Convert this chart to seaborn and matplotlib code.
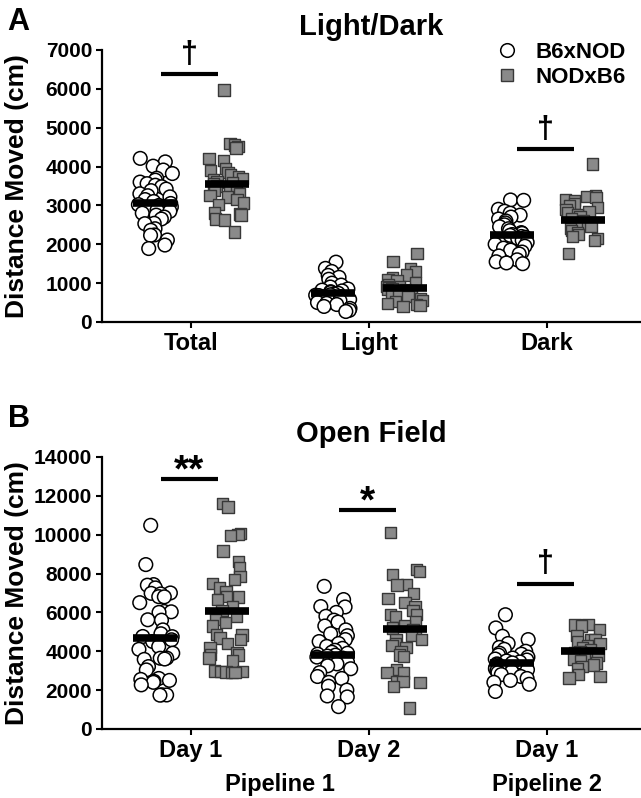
import matplotlib
matplotlib.use("Agg")
import matplotlib.pyplot as plt
from matplotlib.lines import Line2D
import numpy as np
import pandas as pd
import seaborn as sns

strains = ["B6xNOD", "NODxB6"]

# ---- panel A: light/dark test ----
ld_cats = ["Total", "Light", "Dark"]
ld_b6 = [
    [4210, 4120, 4010, 3910, 3820, 3700, 3650, 3600, 3560, 3520, 3480, 3420,
     3380, 3300, 3250, 3220, 3150, 3100, 3050, 3020, 3000, 2960, 2900, 2880,
     2850, 2800, 2750, 2700, 2650, 2540, 2530, 2400, 2360, 2240, 2230, 2110,
     1980, 1890],
    [1540, 1380, 1300, 1200, 1150, 1100, 1000, 950, 900, 850, 820, 800, 780,
     760, 740, 720, 700, 690, 680, 650, 620, 600, 580, 550, 500, 480, 450, 400,
     350, 300, 270],
    [3140, 3130, 2900, 2850, 2800, 2750, 2700, 2650, 2600, 2550, 2500, 2450,
     2400, 2350, 2300, 2280, 2250, 2230, 2200, 2180, 2150, 2100, 2050, 2000,
     1950, 1900, 1850, 1800, 1750, 1700, 1600, 1550, 1520, 1500],
]
ld_nod = [
    [5970, 4600, 4550, 4520, 4480, 4200, 4150, 3950, 3900, 3850, 3780, 3740,
     3700, 3650, 3600, 3580, 3550, 3500, 3450, 3400, 3350, 3300, 3250, 3220,
     3150, 3060, 3020, 2800, 2780, 2750, 2650, 2620, 2320],
    [1760, 1550, 1380, 1300, 1210, 1150, 1100, 1050, 1000, 950, 920, 900, 880,
     860, 840, 820, 800, 780, 750, 700, 650, 600, 560, 520, 480, 450, 420, 400],
    [4070, 3260, 3230, 3200, 3150, 3120, 3050, 3000, 2950, 2900, 2850, 2800,
     2750, 2700, 2650, 2600, 2550, 2500, 2450, 2400, 2350, 2300, 2250, 2200,
     2150, 2100, 1760],
]
ld_mean_b6 = [3050, 740, 2230]
ld_mean_nod = [3560, 870, 2620]
ld_sig = [("Total", 6370, "†"), ("Dark", 4450, "†")]

# ---- panel B: open field ----
of_cats = ["P1 Day 1", "P1 Day 2", "P2 Day 1"]
of_ticklabels = ["Day 1", "Day 2", "Day 1"]
of_b6 = [
    [10480, 8460, 7430, 7400, 7260, 7000, 6980, 6950, 6810, 6800, 6500, 6050,
     6030, 6000, 5620, 5600, 5100, 4900, 4760, 4750, 4590, 4500, 4240, 4100,
     3900, 3650, 3640, 3600, 3580, 3210, 3040, 2600, 2550, 2500, 2450, 2400,
     2270, 1760, 1750, 1740],
    [7340, 6660, 6300, 6280, 6000, 5800, 5600, 5500, 5300, 5100, 4900, 4800,
     4600, 4500, 4400, 4250, 4150, 4050, 3950, 3900, 3850, 3800, 3750, 3700,
     3650, 3550, 3450, 3350, 3250, 3100, 2900, 2700, 2600, 2400, 2200, 2000,
     1700, 1650, 1150],
    [5880, 5200, 4770, 4600, 4400, 4200, 4100, 4000, 3900, 3850, 3800, 3700,
     3650, 3600, 3550, 3500, 3450, 3400, 3350, 3300, 3250, 3200, 3150, 3100,
     3050, 3000, 2950, 2900, 2800, 2700, 2600, 2500, 2400, 2300, 1930],
]
of_nod = [
    [11610, 11420, 10060, 10010, 9950, 9150, 8630, 8300, 7860, 7690, 7500,
     7260, 7080, 6830, 6800, 6660, 6300, 6100, 5790, 5620, 5470, 5300, 4850,
     4830, 4690, 4590, 4400, 4180, 3920, 3820, 3800, 3660, 3500, 2980, 2960,
     2950, 2940, 2920, 2900],
    [10100, 8200, 8100, 7950, 7430, 7400, 6970, 6700, 6500, 6300, 6100, 5900,
     5880, 5800, 5500, 5300, 5200, 5100, 5000, 4800, 4600, 4580, 4400, 4300,
     4200, 4000, 3800, 3720, 3050, 2900, 2880, 2450, 2430, 2400, 2180, 1070],
    [5370, 5350, 5300, 5110, 4800, 4600, 4590, 4500, 4400, 4300, 4200, 4100,
     4000, 3950, 3900, 3800, 3700, 3600, 3500, 3400, 3300, 3200, 3100, 2800,
     2700, 2630],
]
of_mean_b6 = [4680, 3820, 3420]
of_mean_nod = [6050, 5140, 3990]
of_sig = [("P1 Day 1", 12880, "**"), ("P1 Day 2", 11260, "*"), ("P2 Day 1", 7480, "†")]


def long_table(cats, b6, nod):
    rows = []
    for cat, vals in zip(cats, b6):
        rows += [(cat, "B6xNOD", v) for v in vals]
    for cat, vals in zip(cats, nod):
        rows += [(cat, "NODxB6", v) for v in vals]
    return pd.DataFrame(rows, columns=["cat", "strain", "dist"])


def draw_panel(ax, cats, b6, nod, mean_b6, mean_nod, sig, ymax, ystep):
    df = long_table(cats, b6, nod)
    means = long_table(cats, [[m] for m in mean_b6], [[m] for m in mean_nod])
    sns.stripplot(data=df[df.strain == "B6xNOD"], x="cat", y="dist", hue="strain",
                  order=cats, hue_order=strains, dodge=True, jitter=0.2,
                  marker="o", size=9.8, palette={"B6xNOD": "white", "NODxB6": "white"},
                  edgecolor="black", linewidth=1.1, legend=False, ax=ax)
    sns.stripplot(data=df[df.strain == "NODxB6"], x="cat", y="dist", hue="strain",
                  order=cats, hue_order=strains, dodge=True, jitter=0.2,
                  marker="s", size=8.2, palette={"B6xNOD": "#8a8a8a", "NODxB6": "#8a8a8a"},
                  edgecolor="#383838", linewidth=1.0, legend=False, ax=ax)
    sns.pointplot(data=means, x="cat", y="dist", hue="strain", order=cats,
                  hue_order=strains, dodge=0.4, markers="_", markersize=31,
                  markeredgewidth=5.5, linestyle="none", errorbar=None,
                  palette={"B6xNOD": "black", "NODxB6": "black"}, legend=False,
                  zorder=10, ax=ax)
    for cat, y, mark in sig:
        i = cats.index(cat)
        ax.hlines(y, i - 0.17, i + 0.15, color="black", lw=3, zorder=10)
        if mark == "†":
            ax.annotate(mark, (i - 0.01, y), xytext=(0, 3), textcoords="offset points",
                        ha="center", va="bottom", fontsize=22, fontweight="bold")
        else:
            ax.annotate(mark, (i - 0.01, y), xytext=(0, -2), textcoords="offset points",
                        ha="center", va="baseline", fontsize=28, fontweight="bold")
    ax.set_xlim(-0.5, 2.52)
    ax.set_ylim(0, ymax)
    ax.set_yticks(np.arange(0, ymax + 1, ystep))
    ax.set_xlabel("")
    ax.set_ylabel("Distance Moved (cm)", fontsize=19, fontweight="bold")
    ax.yaxis.set_label_coords(-0.135, 0.5)
    sns.despine(ax=ax)
    for s in ["left", "bottom"]:
        ax.spines[s].set_linewidth(1.6)
        ax.spines[s].set_color("black")
    ax.tick_params(width=1.5, length=4, pad=3, color="black", labelcolor="black")
    for lab in ax.get_xticklabels():
        lab.set_fontsize(17)
        lab.set_fontweight("bold")
    for lab in ax.get_yticklabels():
        lab.set_fontsize(15)
        lab.set_fontweight("bold")


sns.set_style("ticks")
plt.rcParams["font.family"] = ["Liberation Sans", "DejaVu Sans"]
plt.rcParams["text.color"] = "black"
plt.rcParams["axes.labelcolor"] = "black"
np.random.seed(7)

fig = plt.figure(figsize=(6.41, 7.98), dpi=100)
axA = fig.add_axes([0.159, 0.5965, 0.839, 0.3409])
axB = fig.add_axes([0.159, 0.0865, 0.839, 0.3409])

draw_panel(axA, ld_cats, ld_b6, ld_nod, ld_mean_b6, ld_mean_nod, ld_sig, 7000, 1000)
axA.set_title("Light/Dark", fontsize=21, fontweight="bold", pad=11)

draw_panel(axB, of_cats, of_b6, of_nod, of_mean_b6, of_mean_nod, of_sig, 14000, 2000)
axB.set_xticks(range(3))
axB.set_xticklabels(of_ticklabels, fontsize=17, fontweight="bold")
axB.set_title("Open Field", fontsize=21, fontweight="bold", pad=11)
axB.text(0.5, -0.205, "Pipeline 1", transform=axB.get_xaxis_transform(),
         ha="center", va="center", fontsize=17, fontweight="bold")
axB.text(2, -0.205, "Pipeline 2", transform=axB.get_xaxis_transform(),
         ha="center", va="center", fontsize=17, fontweight="bold")

handles = [
    Line2D([], [], marker="o", linestyle="none", markerfacecolor="white",
           markeredgecolor="black", markeredgewidth=1.1, markersize=9.8, label="B6xNOD"),
    Line2D([], [], marker="s", linestyle="none", markerfacecolor="#8a8a8a",
           markeredgecolor="#383838", markeredgewidth=1.0, markersize=8.2, label="NODxB6"),
]
axA.legend(handles=handles, loc="upper left", bbox_to_anchor=(0.732, 1.03),
           frameon=False, borderpad=0, borderaxespad=0, handlelength=1.0,
           handletextpad=0.8, labelspacing=0.2,
           prop={"weight": "bold", "size": 16})

fig.text(0.012, 0.962, "A", fontsize=22, fontweight="bold", va="baseline")
fig.text(0.012, 0.465, "B", fontsize=22, fontweight="bold", va="baseline")

fig.savefig("out.png", dpi=100)
